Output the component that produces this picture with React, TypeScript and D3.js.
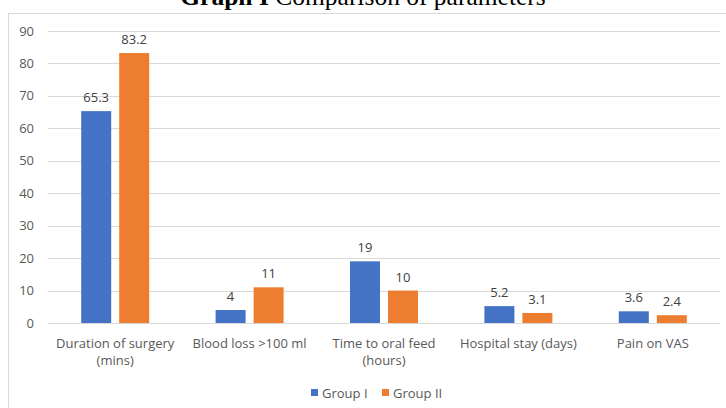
import React from "react";
import * as d3 from "d3";

const categories: string[][] = [
  ["Duration of surgery", "(mins)"],
  ["Blood loss >100 ml"],
  ["Time to oral feed", "(hours)"],
  ["Hospital stay (days)"],
  ["Pain on VAS"],
];
const seriesNames = ["Group I", "Group II"];
const group1 = [65.3, 4, 19, 5.2, 3.6];
const group2 = [83.2, 11, 10, 3.1, 2.4];
const group1Labels = ["65.3", "4", "19", "5.2", "3.6"];
const group2Labels = ["83.2", "11", "10", "3.1", "2.4"];
const yTicks = [0, 10, 20, 30, 40, 50, 60, 70, 80, 90];
const colors = ["#4472C4", "#ED7D31"];

const W = 726;
const H = 408;
const font = "'Open Sans', sans-serif";

export default function App() {
  const y = d3.scaleLinear().domain([0, 90]).range([323, 31]);
  const x = d3
    .scaleBand<number>()
    .domain(categories.map((_, i) => i))
    .range([48, 720])
    .padding(0);
  const bw = x.bandwidth();
  const sub = d3
    .scaleBand<number>()
    .domain([0, 1])
    .range([(bw - 68) / 2, (bw + 68) / 2])
    .paddingInner(8 / 38)
    .paddingOuter(0);
  const series = [group1, group2];
  const labels = [group1Labels, group2Labels];

  return (
    <svg
      width={W}
      height={H}
      style={{ position: "absolute", left: 0, top: 0, display: "block" }}
    >
      <rect x={0} y={0} width={W} height={H} fill="#fff" />
      <text
        x={363}
        y={5}
        textAnchor="middle"
        fontFamily="'Liberation Serif', 'Times New Roman', serif"
        fontSize={25.5}
        fill="#000"
      >
        <tspan fontWeight="bold">Graph I</tspan>
        <tspan> Comparison of parameters</tspan>
      </text>
      <rect
        x={8.5}
        y={13.5}
        width={730}
        height={420}
        fill="none"
        stroke="#d9d9d9"
      />
      {yTicks.map((t) => (
        <g key={t}>
          <line
            x1={48}
            x2={720}
            y1={Math.round(y(t)) + 0.5}
            y2={Math.round(y(t)) + 0.5}
            stroke="#d9d9d9"
            strokeWidth={1}
          />
          <text
            x={34}
            y={y(t) + 4.5}
            textAnchor="end"
            fontFamily={font}
            fontSize={13}
            fill="#595959"
          >
            {t}
          </text>
        </g>
      ))}
      {categories.map((cat, i) => (
        <g key={i} transform={`translate(${x(i)},0)`}>
          {series.map((s, j) => (
            <g key={j}>
              <rect
                x={sub(j)}
                y={y(s[i])}
                width={sub.bandwidth()}
                height={y(0) - y(s[i])}
                fill={colors[j]}
              />
              <text
                x={(sub(j) as number) + sub.bandwidth() / 2}
                y={y(s[i]) - 9}
                textAnchor="middle"
                fontFamily={font}
                fontSize={13}
                fill="#404040"
              >
                {labels[j][i]}
              </text>
            </g>
          ))}
          {cat.map((line, k) => (
            <text
              key={k}
              x={bw / 2}
              y={348 + k * 17}
              textAnchor="middle"
              fontFamily={font}
              fontSize={13}
              fill="#595959"
            >
              {line}
            </text>
          ))}
        </g>
      ))}
      {seriesNames.map((n, j) => {
        const lx = j === 0 ? 311 : 382;
        return (
          <g key={n}>
            <rect x={lx} y={389} width={7} height={7} fill={colors[j]} />
            <text
              x={lx + 11}
              y={397.5}
              fontFamily={font}
              fontSize={13}
              fill="#595959"
            >
              {n}
            </text>
          </g>
        );
      })}
    </svg>
  );
}
